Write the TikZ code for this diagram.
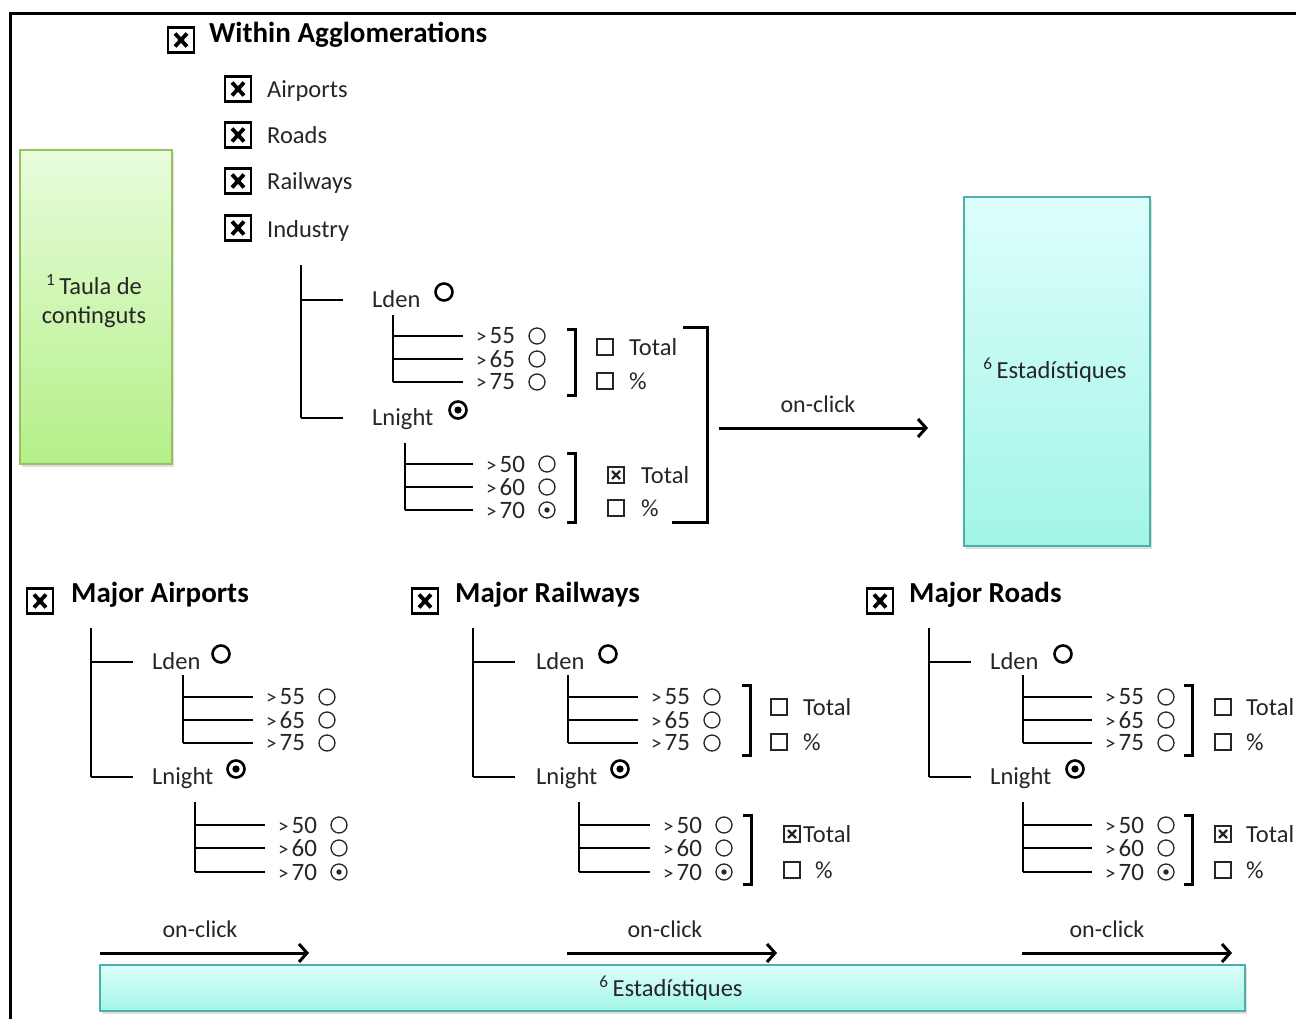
\documentclass[tikz,border=0pt]{standalone}
\usepackage{fontspec}
\setmainfont{Carlito}
\usetikzlibrary{shadows,arrows.meta}
\definecolor{txt}{HTML}{262626}
\definecolor{gtop}{HTML}{E8FCDC}
\definecolor{gbot}{HTML}{B4F088}
\definecolor{gbord}{HTML}{98C060}
\definecolor{ctop}{HTML}{DDFEFC}
\definecolor{cbot}{HTML}{A2F5E6}
\definecolor{cbord}{HTML}{4AB0A8}

\newcommand{\myleaf}[6]{%
  \coordinate (#1j) at (#2,#4);
  \node[leaftxt] (#1) at (#3+13,#4) {#5};
  \node[#6] (#1r) at (#3+74,#4) {};
  \draw[tree,shorten >=13pt] (#1j) -- (#1.west);
}
\newcommand{\gt}{{\fontsize{21}{24}\selectfont >}\kern3pt}
\newcommand{\subden}[7]{%
  \coordinate (#1t) at (#2,#3);
  \myleaf{#1a}{#2}{#4}{#5}{\gt 55}{rad}
  \myleaf{#1b}{#2}{#4}{#6}{\gt 65}{rad}
  \myleaf{#1c}{#2}{#4}{#7}{\gt 75}{rad}
  \draw[tree] (#1t) -- (#1cj);
}
\newcommand{\subnight}[7]{%
  \coordinate (#1t) at (#2,#3);
  \myleaf{#1a}{#2}{#4}{#5}{\gt 50}{rad}
  \myleaf{#1b}{#2}{#4}{#6}{\gt 60}{rad}
  \myleaf{#1c}{#2}{#4}{#7}{\gt 70}{radd}
  \draw[tree] (#1t) -- (#1cj);
}
\newcommand{\maintree}[8]{%
  \coordinate (#1t) at (#2,#3);
  \coordinate (#1a) at (#2,#4);
  \coordinate (#1b) at (#2,#5);
  \coordinate (#1ae) at (#2+42,#4);
  \coordinate (#1be) at (#2+42,#5);
  \node[lbl] (#1den) at (#6,#4+7) {Lden};
  \node[lbl] (#1night) at (#6,#5+7) {Lnight};
  \node[bigrad] (#1denr) at (#7,#4-8) {};
  \node[bigradd] (#1nightr) at (#8,#5-8) {};
  \draw[tree] (#1t) -- (#1b);
  \draw[tree] (#1a) -- (#1ae);
  \draw[tree] (#1b) -- (#1be);
}
\newcommand{\mybracket}[4]{%
  \draw[brk] (#1-#4,#2) -- (#1,#2) -- (#1,#3) -- (#1-#4,#3);
}
\newcommand{\myopt}[6]{%
  \node[#6] (#1) at (#2,#3) {};
  \node[opttxt] (#1t) at (#4,#3) {#5};
}

\begin{document}
\begin{tikzpicture}[x=1pt,y=-1pt,
  lbl/.style={anchor=base west,inner sep=0pt,text=txt,font=\fontsize{24.5}{28}\selectfont},
  leaftxt/.style={anchor=west,inner sep=0pt,text=txt,font=\fontsize{25}{28}\selectfont},
  opttxt/.style={anchor=west,inner sep=0pt,text=txt,font=\fontsize{24.5}{28}\selectfont},
  clk/.style={inner sep=0pt,text=txt,font=\fontsize{24}{28}\selectfont},
  hdr/.style={anchor=base west,inner sep=0pt,text=black,font=\bfseries\fontsize{29}{33}\selectfont},
  tree/.style={line width=1.8pt,draw=black},
  brk/.style={line width=3pt,draw=black},
  arr/.style={line width=3pt,draw=black,-{Straight Barb[length=8pt,width=18pt]}},
  rad/.style={circle,draw=txt,line width=1.3pt,minimum size=16pt,inner sep=0pt},
  radd/.style={rad,path picture={\fill[txt] (path picture bounding box.center) circle[radius=2.7pt];}},
  bigrad/.style={circle,draw=black,line width=2.6pt,minimum size=17pt,inner sep=0pt},
  bigradd/.style={bigrad,path picture={\fill (path picture bounding box.center) circle[radius=3.6pt];}},
  bigchk/.style={draw=black,line width=2.8pt,minimum width=26pt,minimum height=25pt,inner sep=0pt,
    path picture={\draw[line width=3.8pt] ([shift={(7pt,6pt)}]path picture bounding box.south west) -- ([shift={(-7pt,-6pt)}]path picture bounding box.north east);
      \draw[line width=3.8pt] ([shift={(7pt,-6pt)}]path picture bounding box.north west) -- ([shift={(-7pt,6pt)}]path picture bounding box.south east);}},
  smchk/.style={draw=txt,line width=1.3pt,minimum size=16pt,inner sep=0pt},
  smchkx/.style={smchk,
    path picture={\draw[line width=2.4pt] ([shift={(4pt,4pt)}]path picture bounding box.south west) -- ([shift={(-4pt,-4pt)}]path picture bounding box.north east);
      \draw[line width=2.4pt] ([shift={(4pt,-4pt)}]path picture bounding box.north west) -- ([shift={(-4pt,4pt)}]path picture bounding box.south east);}},
  boxtxt/.style={text=txt,font=\fontsize{24.5}{29}\selectfont,align=center,inner sep=0pt},
  grbox/.style={top color=gtop,bottom color=gbot,draw=gbord,line width=1.2pt,
    drop shadow={shadow xshift=1.5pt,shadow yshift=-3pt,opacity=0.25}},
  cybox/.style={top color=ctop,bottom color=cbot,draw=cbord,line width=1.2pt,
    drop shadow={shadow xshift=1.5pt,shadow yshift=-3pt,opacity=0.25}}
]
\useasboundingbox (0,0) rectangle (1296,1019);
\fill[white] (0,0) rectangle (1296,1019);

% frame
\coordinate (fa) at (10,1019);
\coordinate (fb) at (10,14);
\coordinate (fc) at (1296,14);
\draw[line width=3pt] (fa) -- (fb) -- (fc);

% boxes
\node[grbox,minimum width=152pt,minimum height=314pt] (toc) at (96,307) {};
\node[boxtxt] (toct) at (94,301) {\textsuperscript{1}\,Taula de\\continguts};
\node[cybox,minimum width=186pt,minimum height=349pt] (stat) at (1057,371.5) {};
\node[boxtxt] (statt) at (1055,370) {\textsuperscript{6}\,Estadístiques};
\node[cybox,minimum width=1145pt,minimum height=46pt] (statb) at (672.5,988) {};
\node[boxtxt] (statbt) at (671,988) {\textsuperscript{6}\,Estadístiques};

% top header
\node[bigchk] (hw) at (181,40) {};
\node[hdr] (hwt) at (209,43) {Within Agglomerations};
\node[bigchk] (c1) at (238,89) {};
\node[lbl] (c1t) at (267,98) {Airports};
\node[bigchk] (c2) at (238,135) {};
\node[lbl] (c2t) at (267,144) {Roads};
\node[bigchk] (c3) at (238,181) {};
\node[lbl] (c3t) at (267,190) {Railways};
\node[bigchk] (c4) at (238,228) {};
\node[lbl] (c4t) at (267,237) {Industry};

% top tree
\maintree{tm}{301}{265}{300}{418}{372}{444}{458}
\subden{td}{393}{315}{463}{336}{359}{382}
\subnight{tn}{405}{443}{473}{464}{487}{510}
\mybracket{575}{329}{395}{8}
\myopt{to1}{605}{347}{629}{Total}{smchk}
\myopt{to2}{605}{381}{629}{\%}{smchk}
\mybracket{575}{453}{522}{8}
\myopt{to3}{616}{475}{641}{Total}{smchkx}
\myopt{to4}{616}{508}{641}{\%}{smchk}
\coordinate (bb1) at (683,327);
\coordinate (bb2) at (707,327);
\coordinate (bb3) at (707,522);
\coordinate (bb4) at (672,522);
\draw[brk] (bb1) -- (bb2) -- (bb3) -- (bb4);
\coordinate (a0s) at (719,428);
\coordinate (a0e) at (928,428);
\draw[arr] (a0s) -- (a0e);
\node[clk] (a0t) at (818,404) {on-click};

% Major Airports
\node[bigchk] (ha) at (40,601) {};
\node[hdr] (hat) at (71,602) {Major Airports};
\maintree{am}{91}{628}{662}{777}{152}{221}{236}
\subden{ad}{183}{675}{253}{697}{720}{743}
\subnight{an}{195}{802}{265}{825}{848}{872}

% Major Railways
\node[bigchk] (hr) at (425,601) {};
\node[hdr] (hrt) at (455,602) {Major Railways};
\maintree{rm}{473}{628}{662}{777}{536}{608}{620}
\subden{rd}{568}{675}{638}{697}{720}{743}
\subnight{rn}{579}{802}{650}{825}{848}{872}
\mybracket{750}{685}{755}{8}
\myopt{ro1}{779}{707}{803}{Total}{smchk}
\myopt{ro2}{779}{742}{803}{\%}{smchk}
\mybracket{751}{815}{884}{8}
\myopt{ro3}{792}{834}{803}{Total}{smchkx}
\myopt{ro4}{792}{870}{815}{\%}{smchk}

% Major Roads
\node[bigchk] (ho) at (880,601) {};
\node[hdr] (hot) at (909,602) {Major Roads};
\maintree{om}{929}{628}{662}{777}{990}{1063}{1075}
\subden{od}{1023}{675}{1092}{697}{720}{743}
\subnight{on}{1023}{802}{1092}{825}{848}{872}
\mybracket{1192}{685}{755}{8}
\myopt{oo1}{1223}{707}{1246}{Total}{smchk}
\myopt{oo2}{1223}{742}{1246}{\%}{smchk}
\mybracket{1192}{815}{884}{8}
\myopt{oo3}{1223}{834}{1246}{Total}{smchkx}
\myopt{oo4}{1223}{870}{1246}{\%}{smchk}

% bottom arrows
\coordinate (a1s) at (100,953);
\coordinate (a1e) at (309,953);
\draw[arr] (a1s) -- (a1e);
\node[clk] (a1t) at (200,929) {on-click};
\coordinate (a2s) at (567,953);
\coordinate (a2e) at (777,953);
\draw[arr] (a2s) -- (a2e);
\node[clk] (a2t) at (665,929) {on-click};
\coordinate (a3s) at (1022,953);
\coordinate (a3e) at (1232,953);
\draw[arr] (a3s) -- (a3e);
\node[clk] (a3t) at (1107,929) {on-click};
\end{tikzpicture}
\end{document}
